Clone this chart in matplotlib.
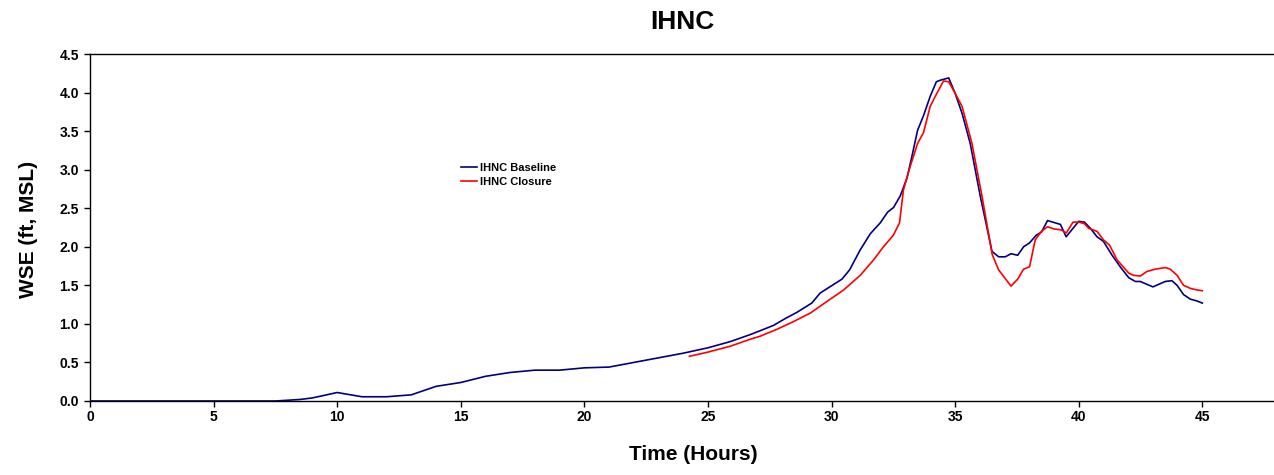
import matplotlib
matplotlib.use("Agg")
import matplotlib.pyplot as plt

plt.rcParams['font.family'] = ['Liberation Sans', 'DejaVu Sans']

title = "IHNC"
xlabel = "Time (Hours)"
ylabel = "WSE (ft, MSL)"
baseline_label = "IHNC Baseline"
closure_label = "IHNC Closure"

baseline_t = [0, 1, 2, 3, 4, 5, 6, 7, 7.5, 8, 8.5, 9, 10, 11, 12, 13, 14, 15, 16, 17, 18, 19,
              20, 21, 22, 23, 24, 25, 25.9, 26.7, 27.1, 27.65, 28.13, 28.6, 29.2, 29.54,
              29.88, 30.42, 30.73, 31.16, 31.57, 31.97, 32.27, 32.51, 32.78, 33.05, 33.25,
              33.48, 33.72, 33.99, 34.24, 34.4, 34.74, 35.0, 35.28, 35.61, 36.02, 36.22,
              36.49, 36.76, 37.03, 37.26, 37.53, 37.77, 38.01, 38.28, 38.49, 38.74, 39.26,
              39.49, 40.0, 40.23, 40.47, 40.74, 41.0, 41.35, 41.68, 42.02, 42.29, 42.49,
              43.0, 43.5, 43.77, 43.98, 44.24, 44.52, 44.76, 45.0]
baseline_wse = [0, 0, 0, 0, 0, 0, 0, 0, 0.0, 0.01, 0.02, 0.04, 0.11, 0.055, 0.055, 0.08, 0.19,
                0.24, 0.32, 0.37, 0.40, 0.40, 0.43, 0.44, 0.50, 0.56, 0.62, 0.69, 0.77, 0.86,
                0.91, 0.98, 1.07, 1.15, 1.27, 1.40, 1.47, 1.58, 1.70, 1.96, 2.17, 2.31, 2.45,
                2.51, 2.66, 2.89, 3.17, 3.51, 3.70, 3.95, 4.14, 4.16, 4.19, 3.99, 3.73, 3.34,
                2.65, 2.35, 1.94, 1.87, 1.87, 1.91, 1.89, 2.00, 2.05, 2.15, 2.19, 2.34, 2.29,
                2.13, 2.33, 2.32, 2.24, 2.13, 2.07, 1.89, 1.74, 1.60, 1.55, 1.55, 1.48, 1.55,
                1.56, 1.50, 1.38, 1.32, 1.30, 1.27]

closure_t = [24.25, 24.95, 25.9, 26.7, 27.11, 27.79, 28.46, 29.14, 29.81, 30.49, 31.16, 31.7,
             32.1, 32.5, 32.75, 32.91, 33.18, 33.48, 33.72, 33.99, 34.26, 34.53, 34.74, 35.0,
             35.28, 35.68, 36.09, 36.5, 36.76, 37.26, 37.53, 37.77, 38.01, 38.24, 38.49,
             38.74, 39.01, 39.28, 39.5, 39.77, 40.0, 40.23, 40.4, 40.74, 41.0, 41.25, 41.55,
             42.02, 42.22, 42.49, 42.76, 43.1, 43.5, 43.7, 43.98, 44.24, 44.52, 44.79, 45.0]
closure_wse = [0.58, 0.63, 0.71, 0.80, 0.84, 0.93, 1.03, 1.14, 1.29, 1.44, 1.63, 1.83, 2.00,
               2.15, 2.31, 2.74, 3.04, 3.34, 3.48, 3.82, 3.99, 4.15, 4.14, 3.99, 3.82, 3.34,
               2.65, 1.90, 1.70, 1.49, 1.58, 1.71, 1.74, 2.09, 2.20, 2.26, 2.23, 2.22, 2.18,
               2.32, 2.32, 2.30, 2.24, 2.20, 2.09, 2.02, 1.83, 1.66, 1.63, 1.62, 1.68, 1.71,
               1.73, 1.71, 1.63, 1.50, 1.46, 1.44, 1.43]

x_ticks = [0, 5, 10, 15, 20, 25, 30, 35, 40, 45]
y_ticks = [0.0, 0.5, 1.0, 1.5, 2.0, 2.5, 3.0, 3.5, 4.0, 4.5]

fig = plt.figure(figsize=(12.74, 4.75), dpi=100)
ax = fig.add_axes([90 / 1274, 1 - 401 / 475, 1 - 90 / 1274, 347 / 475])

ax.plot(baseline_t, baseline_wse, color='#000080', lw=1.2, label=baseline_label)
ax.plot(closure_t, closure_wse, color='#ff0000', lw=1.2, label=closure_label)

ax.set_xlim(0, 47.9)
ax.set_ylim(0, 4.5)
ax.set_xticks(x_ticks)
ax.set_yticks(y_ticks)
ax.set_yticklabels([f"{v:.1f}" for v in y_ticks])
ax.tick_params(direction='out', length=4, width=1, labelsize=10)
ax.tick_params(axis='x', pad=2.5)
ax.tick_params(axis='y', pad=4)
for lab in ax.get_xticklabels() + ax.get_yticklabels():
    lab.set_fontweight('bold')
ax.spines['right'].set_visible(False)
for s in ['left', 'bottom', 'top']:
    ax.spines[s].set_linewidth(1)

fig.text(682 / 1274, 1 - 22 / 475, title, ha='center', va='center', fontsize=19, fontweight='bold')
fig.text(693 / 1274, 1 - 455 / 475, xlabel, ha='center', va='center', fontsize=15, fontweight='bold')
fig.text(28 / 1274, 1 - 229 / 475, ylabel, ha='center', va='center', rotation=90, fontsize=15, fontweight='bold')

leg = ax.legend(loc='upper left', bbox_to_anchor=(0.305, 0.715), frameon=False,
                prop={'size': 8, 'weight': 'bold'}, handlelength=1.4, handletextpad=0.3,
                labelspacing=0.35)

fig.savefig("out.png", dpi=100)
